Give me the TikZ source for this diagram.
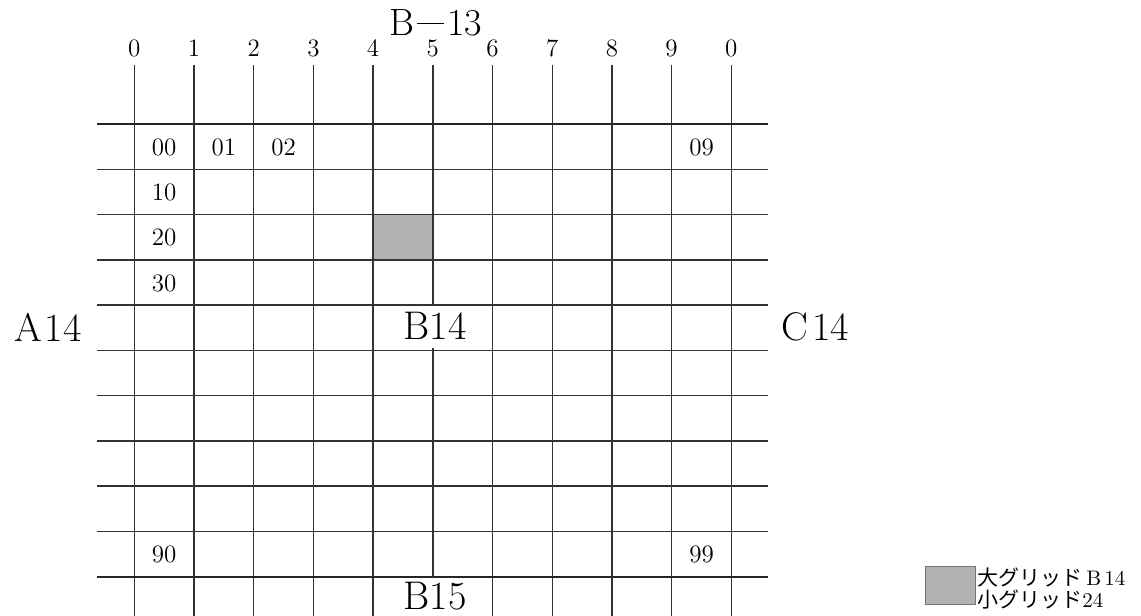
\documentclass[tikz,border=0pt]{standalone}
\usepackage{fontspec}
\newfontfamily\jp{Noto Sans CJK JP}
\begin{document}
\begin{tikzpicture}[x=0.5pt,y=-0.5pt,
  gridline/.style={line width=0.7pt,black!80},
  frameline/.style={line width=1pt,black!85},
  cellnum/.style={font=\fontsize{12.5}{14}\selectfont,inner sep=0pt},
  colnum/.style={font=\fontsize{12.5}{14}\selectfont,inner sep=0pt},
  biglabel/.style={font=\fontsize{20}{24}\selectfont,inner sep=1pt},
  shade/.style={fill=black!30},
  legendtext/.style={font=\fontsize{10.5}{12}\selectfont,inner sep=0pt,anchor=west}]
\useasboundingbox (0,0) rectangle (1141,616);
% shaded small grid cell 24
\fill[shade] (373.1,214.5) rectangle (432.8,259.8);
% vertical lines
\foreach \i/\lab in {0/0,1/1,2/2,3/3,4/4,5/5,6/6,7/7,8/8,9/9,10/0}{
  \pgfmathsetmacro{\xx}{134.3+59.7*\i}
  \draw[gridline] (\xx,65) -- (\xx,616);
  \node[colnum] (c\i) at (\xx,48) {\lab};
}
% white patches that mask the middle vertical line behind the labels
\fill[white] (400,305) rectangle (470,348);
\fill[white] (400,578) rectangle (470,616);
\node[biglabel] (b14) at (435,326) {B14};
\node[biglabel,inner sep=0pt] (b15) at (435,596) {B15};
% horizontal lines
\foreach \j in {1,...,9}{
  \pgfmathsetmacro{\yy}{124+45.27*\j}
  \draw[gridline] (97,\yy) -- (768,\yy);
}
\draw[frameline] (97,124) -- (768,124);
\draw[frameline] (97,576.7) -- (768,576.7);
% cell labels
\node[cellnum] (n00) at (164.2,147) {00};
\node[cellnum] (n01) at (223.9,147) {01};
\node[cellnum] (n02) at (283.6,147) {02};
\node[cellnum] (n09) at (701.5,147) {09};
\node[cellnum] (n10) at (164.2,192.5) {10};
\node[cellnum] (n20) at (164.2,237.5) {20};
\node[cellnum] (n30) at (164.2,283) {30};
\node[cellnum] (n90) at (164.2,554) {90};
\node[cellnum] (n99) at (701.5,554) {99};
% big labels
\node[font=\fontsize{19}{22}\selectfont,inner sep=0pt] (t13) at (436,23) {B\kern1pt\rule[0.3em]{0.72em}{0.045em}\kern1.5pt13};
\node[biglabel] (a14) at (48,327) {A\kern1.5pt14};
\node[biglabel] (c14) at (815,327) {C\kern2pt14};
% legend
\draw[shade,draw=black!55,line width=0.4pt] (925,566) rectangle (975,604);
\node[legendtext] (lg1) at (977,577) {{\jp 大グリッド}\kern2pt B\kern1.5pt14};
\node[legendtext] (lg2) at (977,600) {{\jp 小グリッド}24};
\end{tikzpicture}
\end{document}
